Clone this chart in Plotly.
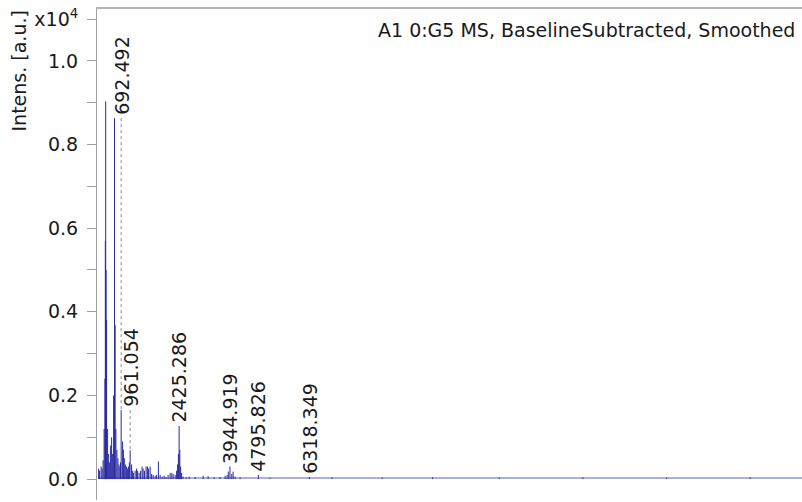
import plotly.graph_objects as go

# ---- data (m/z, intensity in counts) ----
peak_mz = [18, 48, 93, 123, 153, 183, 207, 219, 230, 242, 257, 287, 317, 347, 377,
           407, 437, 467, 494, 512, 535, 565, 595, 625, 655, 672, 692.492, 736, 760,
           787, 817, 855, 885, 915, 938, 961.054, 1005, 1035, 1065, 1110, 1154, 1184,
           1229, 1274, 1319, 1349, 1393, 1438, 1483, 1513, 1558, 1603, 1648, 1708,
           1752, 1806, 1857, 1917, 1977, 2036, 2096, 2156, 2207, 2246, 2306, 2350,
           2380, 2404, 2425.286, 2446, 2470, 2500, 2545, 2634, 2724, 2903, 3143, 3292,
           3472, 3651, 3801, 3860, 3896, 3944.919, 4000, 4040, 4099, 4249, 4795.826,
           5146, 6318.349, 7000, 8500, 10000, 12000, 14500, 17000, 19500]
peak_counts = [250, 200, 300, 250, 450, 1200, 2400, 5700, 9030, 5000, 3800, 1200, 600,
               400, 800, 1000, 600, 2000, 8630, 3680, 1200, 700, 500, 350, 300, 400, 1650,
               900, 700, 500, 350, 300, 250, 300, 400, 690, 350, 200, 150, 200, 250, 200,
               150, 200, 300, 250, 200, 300, 300, 250, 300, 120, 100, 80, 100, 420, 100,
               60, 80, 50, 100, 150, 150, 120, 100, 200, 350, 600, 1270, 700, 300, 150,
               60, 40, 60, 50, 80, 70, 40, 50, 80, 100, 180, 300, 120, 180, 60, 40, 100,
               30, 50, 40, 35, 40, 35, 40, 35, 40]

baseline_mz = [18, 21050]
baseline_counts = [25, 25]

labeled_mz = [692.492, 961.054, 2425.286, 3944.919, 4795.826, 6318.349]

y_tick_vals = [0.0, 0.1, 0.2, 0.3, 0.4, 0.5, 0.6, 0.7, 0.8, 0.9, 1.0, 1.1]
y_tick_text = ["0.0", "", "0.2", "", "0.4", "", "0.6", "", "0.8", "", "1.0", "x10<sup>4</sup>"]

title_text = "A1 0:G5 MS, BaselineSubtracted, Smoothed"
y_title = "Intens. [a.u.]"
SCALE = 1e4

# ---- figure ----
FONT = "DejaVu Sans, Arial, sans-serif"
SPEC = "rgb(40,40,160)"
TXT = "#1a1a1a"

fig = go.Figure()

fig.add_trace(go.Scatter(
    x=baseline_mz, y=[c / SCALE for c in baseline_counts], mode="lines",
    line=dict(color="rgba(60,60,170,0.55)", width=1.5), hoverinfo="skip"))

sx, sy = [], []
for m, c in zip(peak_mz, peak_counts):
    sx += [m, m, None]
    sy += [0, c / SCALE, None]
fig.add_trace(go.Scatter(x=sx, y=sy, mode="lines",
                         line=dict(color=SPEC, width=1), hoverinfo="skip"))

# label placement: label sits above the highest neighbouring peak
NEIGH = 300
lx, ly = [], []
annotations = []
for m in labeled_mz:
    own = peak_counts[peak_mz.index(m)]
    base = max(c for pm, c in zip(peak_mz, peak_counts) if abs(pm - m) <= NEIGH)
    if base > own:
        lx += [m, m, None]
        ly += [base / SCALE, own / SCALE, None]
    annotations.append(dict(
        x=m, y=base / SCALE, xref="x", yref="y", text=f"{m:.3f}", showarrow=False,
        textangle=-90, xanchor="center", yanchor="bottom", yshift=1,
        font=dict(family=FONT, size=19, color=TXT)))

fig.add_trace(go.Scatter(x=lx, y=ly, mode="lines",
                         line=dict(color="#8a8a8a", width=1, dash="dot"), hoverinfo="skip"))

annotations.append(dict(
    x=1, y=1, xref="paper", yref="paper", text=title_text, showarrow=False,
    xanchor="right", yanchor="top", xshift=-5, yshift=-8,
    font=dict(family=FONT, size=19, color=TXT)))
annotations.append(dict(
    x=0, y=1, xref="paper", yref="paper", text=y_title, showarrow=False,
    textangle=-90, xanchor="center", yanchor="top", xshift=-79, yshift=0,
    font=dict(family=FONT, size=19, color=TXT)))

fig.update_layout(
    width=802, height=502,
    margin=dict(l=97, r=0, t=9, b=2),
    paper_bgcolor="white", plot_bgcolor="white",
    showlegend=False, hovermode=False,
    annotations=annotations,
    xaxis=dict(range=[-30, 21050], side="top", showline=True, linecolor="#b4b4b4",
               linewidth=2, showgrid=False, zeroline=False, ticks="",
               showticklabels=False),
    yaxis=dict(range=[-0.05, 1.124], showline=True, linecolor="#a0a0a0", linewidth=1,
               showgrid=False, zeroline=False, ticks="outside", ticklen=9,
               tickcolor="#a0a0a0", tickvals=y_tick_vals, ticktext=y_tick_text,
               ticklabelstandoff=5,
               tickfont=dict(family=FONT, size=19, color=TXT)),
)

fig.write_html("out.html", config={"displayModeBar": False},
               post_script="document.body.style.margin='0';")
